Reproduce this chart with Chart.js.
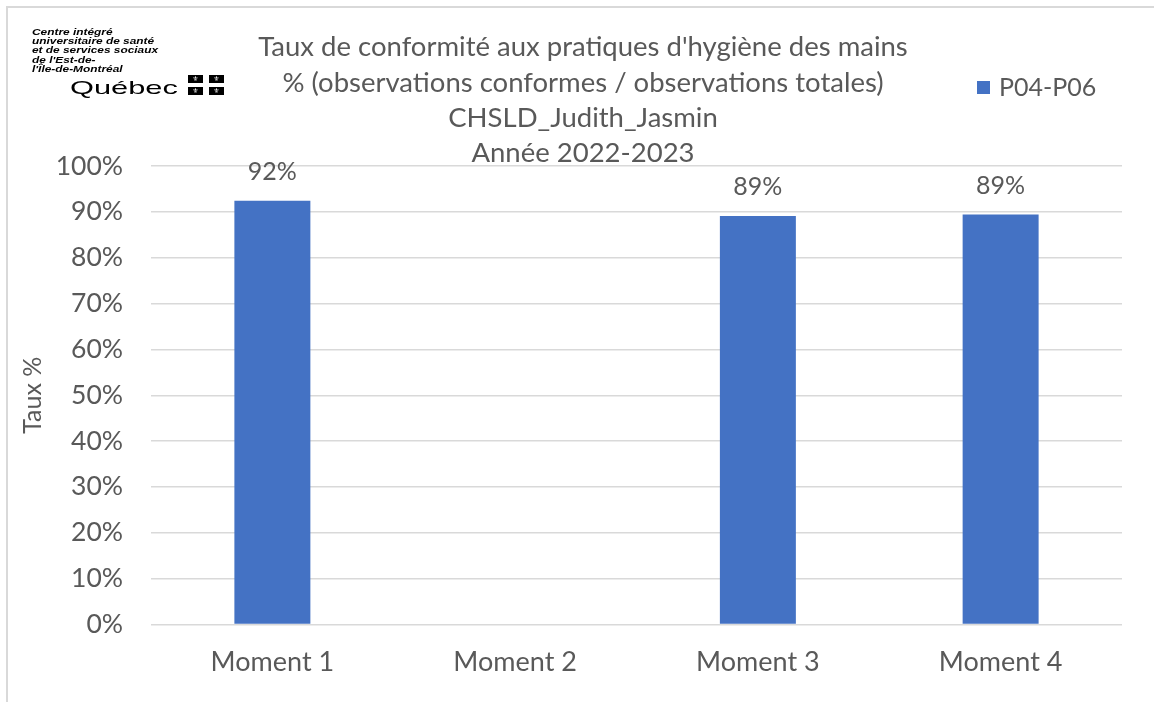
<!DOCTYPE html>
<html>
<head>
<meta charset="utf-8">
<script src="https://cdn.jsdelivr.net/npm/chart.js@4.4.1/dist/chart.umd.min.js"></script>
<style>
  html, body { margin: 0; padding: 0; background: #fff; }
  #wrap { position: relative; width: 1154px; height: 702px; overflow: hidden; }
  #frame { position: absolute; left: 6px; top: 6px; right: -2px; bottom: -2px;
           border-left: 2px solid #d9d9d9; border-top: 2px solid #d9d9d9; pointer-events: none; }
  #logo { position: absolute; left: 32px; top: 27px; font-family: "Liberation Sans", Arial, sans-serif; }
  #logo .small { font-size: 9.5px; font-weight: bold; font-style: italic; line-height: 9.2px; color: #000;
                 transform: scaleX(1.25); transform-origin: left top; white-space: nowrap; }
  #logo .qc { position: absolute; left: 38px; top: 51px; font-size: 19px; line-height: 19px;
              transform: scaleX(1.62); transform-origin: left top; color: #000; }
  #logo .flag { position: absolute; left: 156px; top: 48px; width: 36px; height: 21px; }
  #logo .flag span { position: absolute; width: 15px; height: 8px; background: #000; color: #fff;
                     font-family: "DejaVu Sans"; font-size: 7px; line-height: 8px; text-align: center; }
</style>
</head>
<body>
<div id="wrap">
  <canvas id="myChart" width="1154" height="702"></canvas>
  <div id="frame"></div>
  <div id="logo">
    <div class="small">Centre intégré<br>universitaire de santé<br>et de services sociaux<br>de l'Est-de-<br>l'Île-de-Montréal</div>
    <div class="qc">Québec</div>
    <div class="flag">
      <span style="left:0;top:0">⚜</span><span style="left:21px;top:0">⚜</span>
      <span style="left:0;top:12px">⚜</span><span style="left:21px;top:12px">⚜</span>
    </div>
  </div>
</div>
<script>
const categories = ['Moment 1', 'Moment 2', 'Moment 3', 'Moment 4'];
const seriesName = 'P04-P06';
const values = [92.4, null, 89.1, 89.4];
const titleLines = [
    "Taux de conformité aux pratiques d'hygiène des mains",
    "% (observations conformes / observations totales)",
    "CHSLD_Judith_Jasmin",
    "Année 2022-2023"
];
const yTicks = [0, 10, 20, 30, 40, 50, 60, 70, 80, 90, 100];

const textColor = '#595959';
const barColor = '#4472c4';
const fontFamily = 'Lato, "Open Sans", sans-serif';

// titre, légende et étiquettes de données
const extras = {
    id: 'extras',
    afterDraw(chart) {
        const ctx = chart.ctx;
        ctx.save();
        ctx.fillStyle = textColor;
        ctx.textAlign = 'center';
        ctx.textBaseline = 'middle';
        ctx.font = '27.5px ' + fontFamily;
        const ty = [47, 83, 118, 153];
        titleLines.forEach(function(t, i){
            ctx.fillText(t, 583, ty[i]);
        });

        // legend
        ctx.fillStyle = barColor;
        ctx.fillRect(977, 81, 13, 13);
        ctx.fillStyle = textColor;
        ctx.textAlign = 'left';
        ctx.font = '25px ' + fontFamily;
        ctx.fillText(seriesName, 999, 88);

        // data labels
        ctx.textAlign = 'center';
        const meta = chart.getDatasetMeta(0);
        meta.data.forEach(function(bar, i){
            if (values[i] === null) return;
            ctx.fillText(Math.round(values[i]) + '%', bar.x, bar.y - 29);
        });
        ctx.restore();
    }
};

new Chart(document.getElementById('myChart'), {
    type: 'bar',
    data: {
        labels: categories,
        datasets: [{
            label: seriesName,
            data: values,
            backgroundColor: barColor,
            categoryPercentage: 1,
            barPercentage: 0.313
        }]
    },
    options: {
        responsive: false,
        animation: false,
        layout: { padding: { top: 166, right: 32, left: 6, bottom: 0 } },
        plugins: {
            legend: { display: false },
            title: { display: false },
            tooltip: { enabled: false }
        },
        scales: {
            x: {
                grid: { display: false, drawTicks: false },
                border: { display: false },
                ticks: { color: textColor, font: { family: fontFamily, size: 27 }, padding: 22 },
                afterFit: function(s){ s.height = 702 - 624.5; }
            },
            y: {
                min: 0, max: 100,
                afterBuildTicks: function(s){ s.ticks = yTicks.map(v => ({ value: v })); },
                grid: { color: '#d9d9d9', lineWidth: 1.5, drawTicks: false },
                border: { display: false },
                ticks: {
                    color: textColor, font: { family: fontFamily, size: 26.5 }, padding: 28,
                    callback: v => v + '%'
                },
                title: {
                    display: true, text: 'Taux %', color: textColor,
                    font: { family: fontFamily, size: 25 }, padding: { top: 12, bottom: 0 }
                },
                afterFit: function(s){ s.width = 151 - 6; }
            }
        }
    },
    plugins: [extras]
});
</script>
</body>
</html>
